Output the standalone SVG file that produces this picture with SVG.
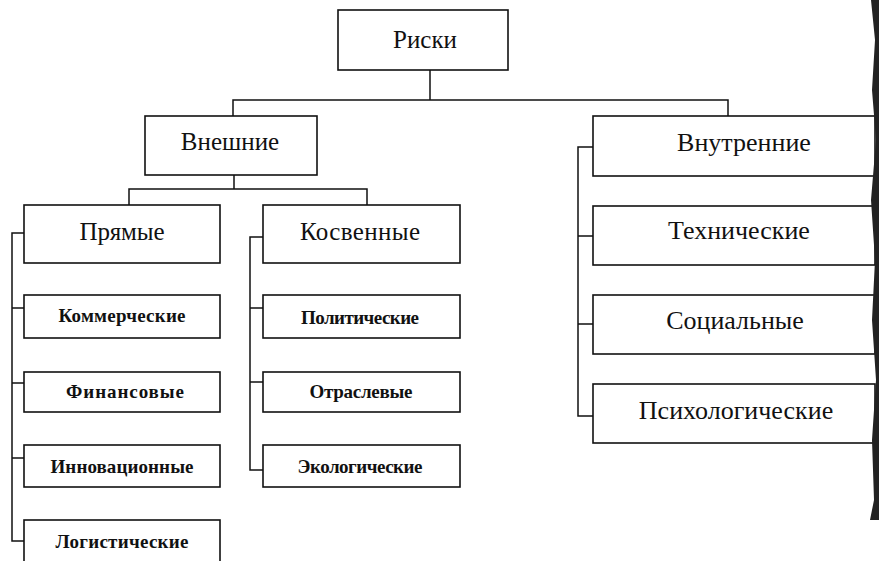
<svg xmlns="http://www.w3.org/2000/svg" width="879" height="561" viewBox="0 0 879 561">
<style>
.box{fill:#fff;stroke:#111;stroke-width:1.6}
.ln{fill:none;stroke:#111;stroke-width:1.5}
text{font-family:"Liberation Serif","Times New Roman",serif;fill:#111;text-anchor:middle}
.t1{font-size:25px}
.t2{font-size:25px}
.t3{font-size:19px;font-weight:bold}
.t4{font-size:26px}
</style>
<rect width="879" height="561" fill="#fff"/>
<g id="connectors" class="ln">
<path d="M430 70V100M233 116V100H728V116"/>
<path d="M234 175V189M129 205V189H367V205"/>
<path d="M24 233H12V541H24M12 308H24M12 383H24M12 458H24"/>
<path d="M263 237H250V470H263M250 308H263M250 382H263"/>
<path d="M593 147H578V416H593M578 236H593M578 324H593"/>
</g>
<g id="n-riski"><rect class="box" x="338" y="10" width="170" height="60"/><text class="t1" x="425" y="48">Риски</text></g>
<g id="n-vneshnie"><rect class="box" x="145" y="116" width="172" height="59"/><text class="t1" x="230" y="150">Внешние</text></g>
<g id="n-vnutrennie"><rect class="box" x="593" y="116" width="282" height="60"/><text class="t4" x="744" y="151">Внутренние</text></g>
<g id="n-pryamye"><rect class="box" x="24" y="205" width="196" height="58"/><text class="t2" x="122" y="240" textLength="85">Прямые</text></g>
<g id="n-kosvennye"><rect class="box" x="263" y="205" width="197" height="58"/><text class="t2" x="360" y="240" textLength="120">Косвенные</text></g>
<g id="n-kommercheskie"><rect class="box" x="24" y="295" width="196" height="43"/><text class="t3" x="122" y="322" textLength="127">Коммерческие</text></g>
<g id="n-finansovye"><rect class="box" x="24" y="372" width="196" height="40"/><text class="t3" x="125" y="398" textLength="118">Финансовые</text></g>
<g id="n-innovacionnye"><rect class="box" x="24" y="445" width="196" height="42"/><text class="t3" x="122" y="473" textLength="143">Инновационные</text></g>
<g id="n-logisticheskie"><rect class="box" x="24" y="520" width="196" height="50"/><text class="t3" x="122" y="548" textLength="133">Логистические</text></g>
<g id="n-politicheskie"><rect class="box" x="263" y="295" width="197" height="43"/><text class="t3" x="360" y="324" textLength="118">Политические</text></g>
<g id="n-otraslevye"><rect class="box" x="263" y="372" width="197" height="40"/><text class="t3" x="361" y="398" textLength="103">Отраслевые</text></g>
<g id="n-ekologicheskie"><rect class="box" x="263" y="445" width="197" height="42"/><text class="t3" x="360" y="473" textLength="125">Экологические</text></g>
<g id="n-tehnicheskie"><rect class="box" x="593" y="206" width="282" height="59"/><text class="t4" x="739" y="239">Технические</text></g>
<g id="n-socialnye"><rect class="box" x="593" y="295" width="282" height="59"/><text class="t4" x="735" y="329">Социальные</text></g>
<g id="n-psihologicheskie"><rect class="box" x="593" y="384" width="282" height="59"/><text class="t4" x="736" y="419">Психологические</text></g>
<path d="M871 0L875 40L872 90L876 140L871 200L875 260L872 320L876 380L872 440L874 500L870 520L879 520L879 0Z" fill="#222"/>
</svg>
